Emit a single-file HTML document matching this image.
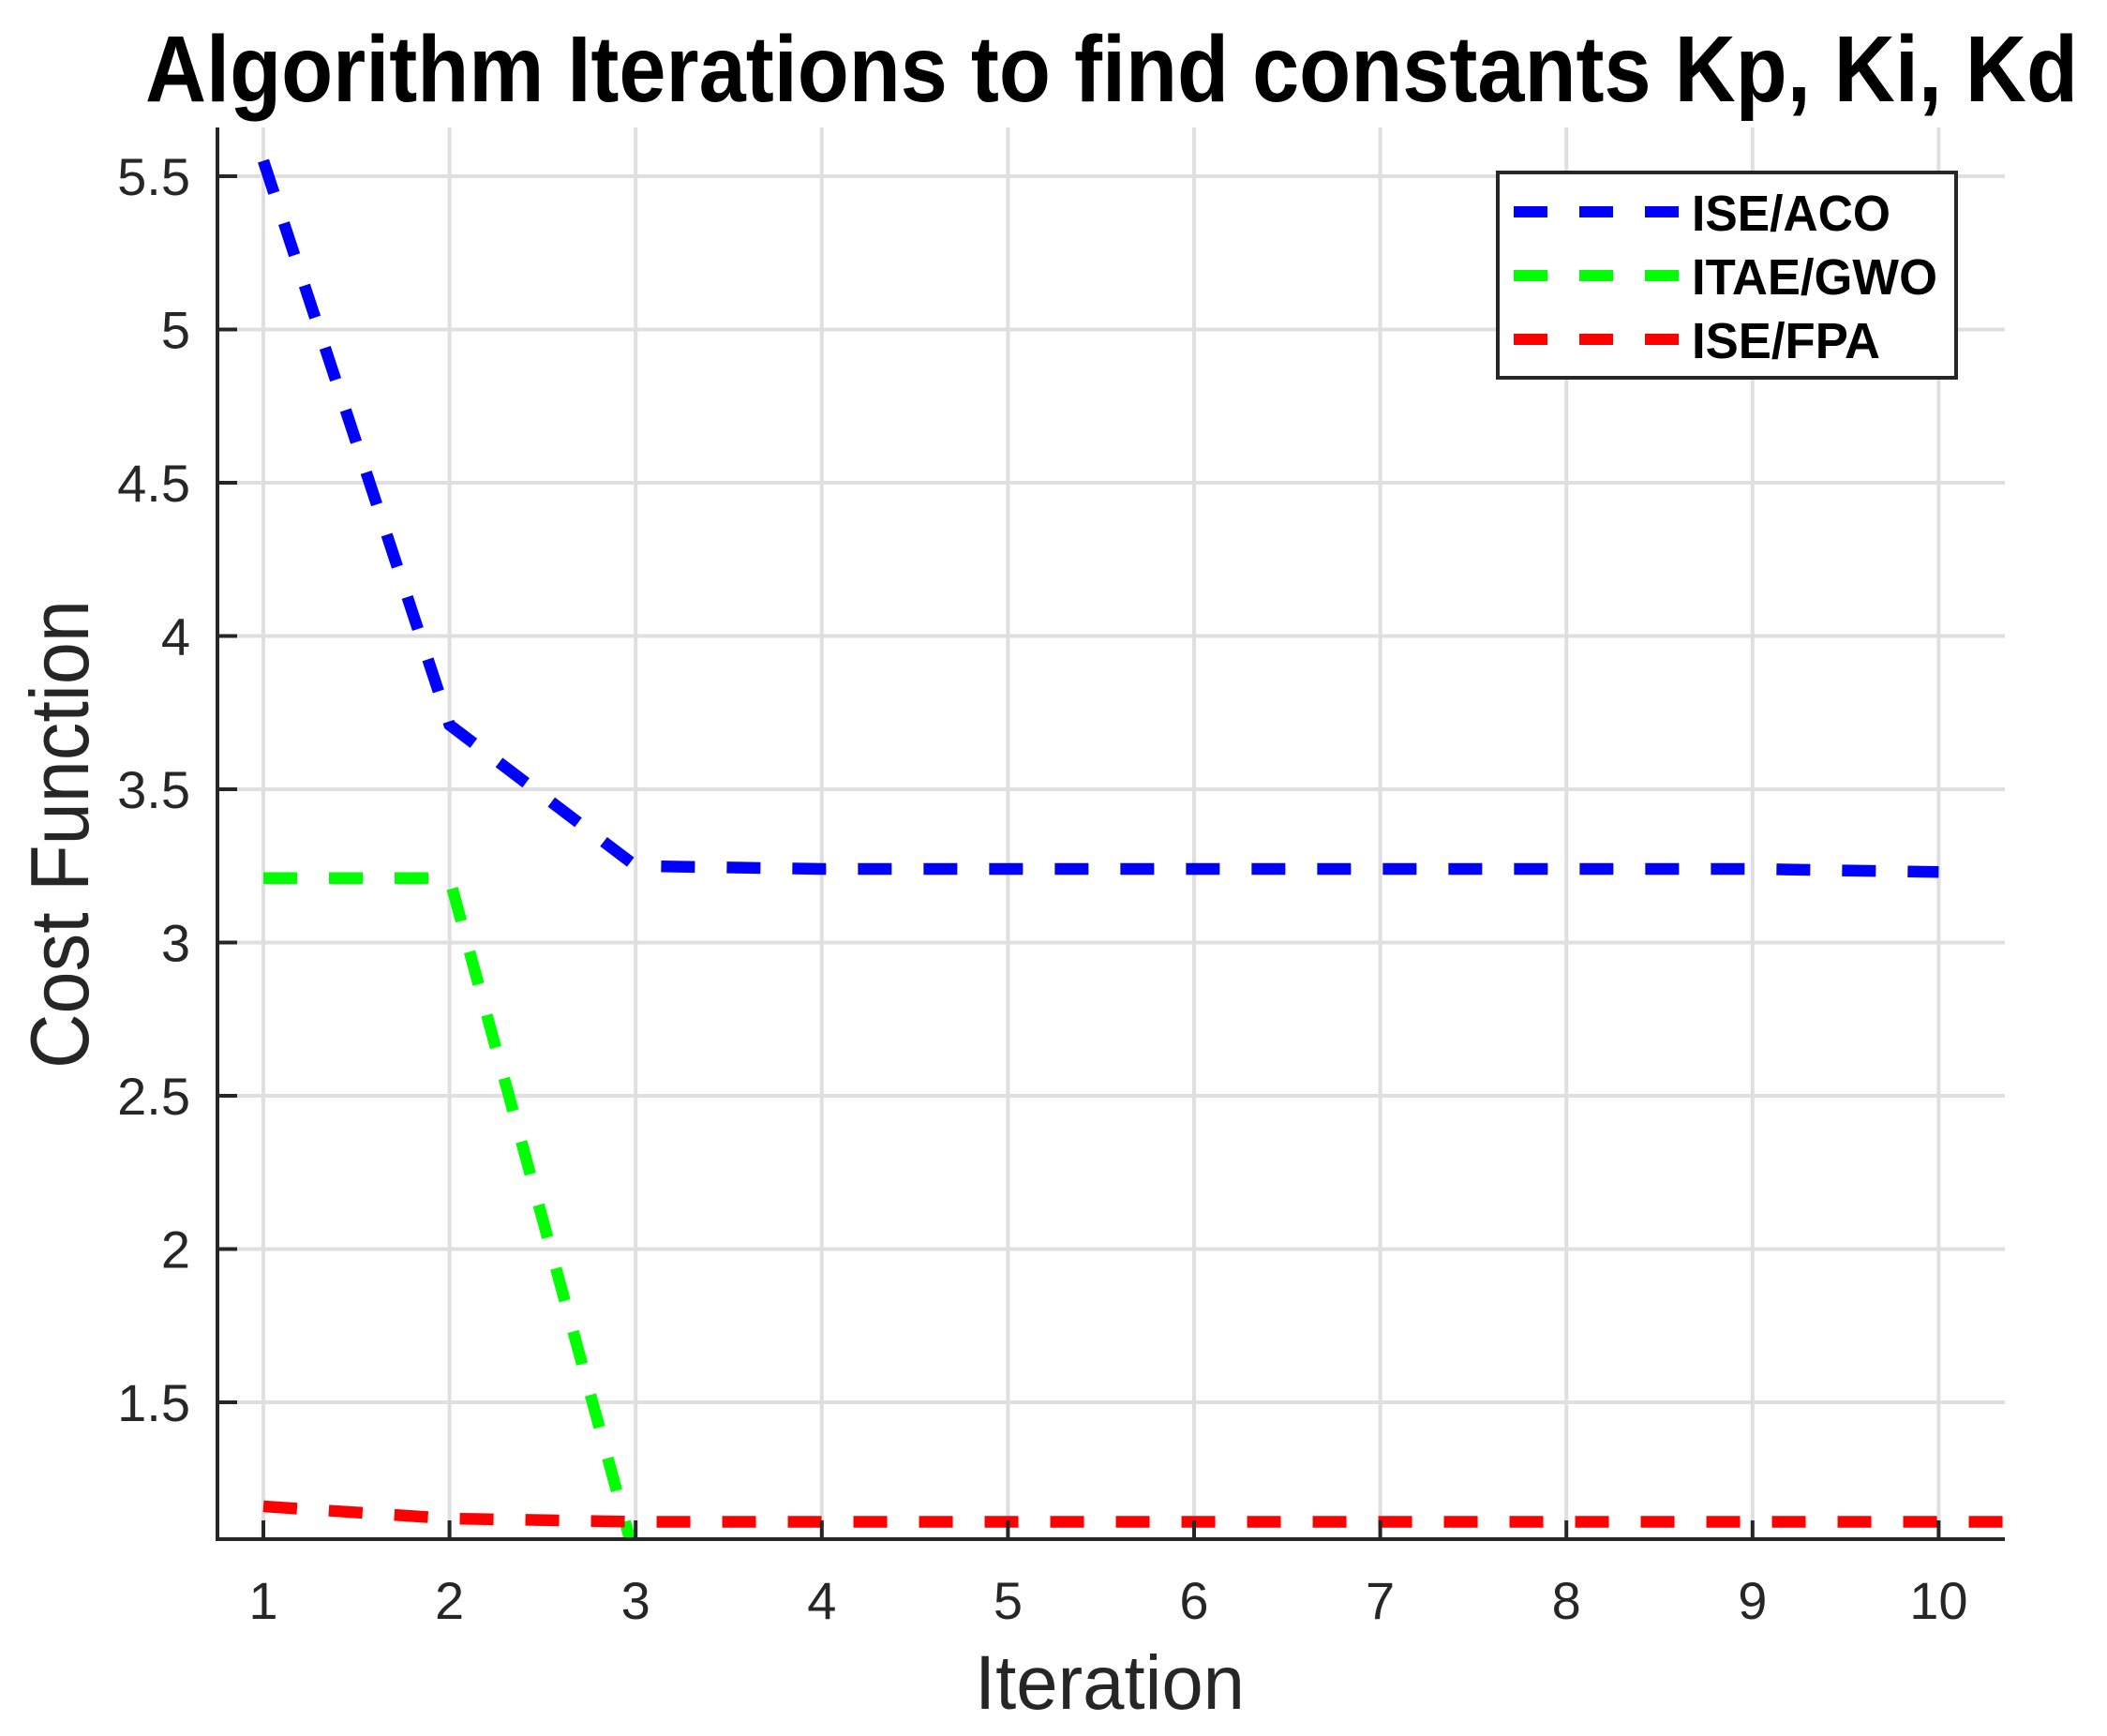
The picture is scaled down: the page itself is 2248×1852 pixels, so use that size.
<!DOCTYPE html>
<html><head><meta charset="utf-8"><style>html,body{margin:0;padding:0;background:#fff}svg{display:block}</style></head>
<body>
<svg xmlns="http://www.w3.org/2000/svg" width="2248" height="1852" viewBox="0 0 2248 1852">
<rect width="2248" height="1852" fill="#fff"/>
<defs><clipPath id="c"><rect x="232" y="136" width="1907" height="1506"/></clipPath></defs>
<g stroke="#dfdfdf" stroke-width="4">
<line x1="281" y1="136" x2="281" y2="1642"/><line x1="479.6" y1="136" x2="479.6" y2="1642"/><line x1="678.2" y1="136" x2="678.2" y2="1642"/><line x1="876.8" y1="136" x2="876.8" y2="1642"/><line x1="1075.4" y1="136" x2="1075.4" y2="1642"/><line x1="1274" y1="136" x2="1274" y2="1642"/><line x1="1472.6" y1="136" x2="1472.6" y2="1642"/><line x1="1671.2" y1="136" x2="1671.2" y2="1642"/><line x1="1869.8" y1="136" x2="1869.8" y2="1642"/><line x1="2068.4" y1="136" x2="2068.4" y2="1642"/>
<line x1="232" y1="188" x2="2139" y2="188"/><line x1="232" y1="351.5" x2="2139" y2="351.5"/><line x1="232" y1="515" x2="2139" y2="515"/><line x1="232" y1="678.5" x2="2139" y2="678.5"/><line x1="232" y1="842" x2="2139" y2="842"/><line x1="232" y1="1005.5" x2="2139" y2="1005.5"/><line x1="232" y1="1169" x2="2139" y2="1169"/><line x1="232" y1="1332.5" x2="2139" y2="1332.5"/><line x1="232" y1="1496" x2="2139" y2="1496"/>
</g>
<g clip-path="url(#c)" fill="none" stroke-width="12.5" stroke-dasharray="36 34">
<polyline stroke="#0000ff" points="281,171.6 479.6,773.3 678.2,923.8 876.8,927 1075.4,927 1274,927 1472.6,927 1671.2,927 1869.8,927 2068.4,930.3"/>
<polyline stroke="#00ff00" points="281,936.8 479.6,936.8 678.2,1664.7"/>
<polyline stroke="#ff0000" points="281,1607 479.6,1620 678.2,1623.5 876.8,1623.5 1075.4,1623.5 1274,1623.5 1472.6,1623.5 1671.2,1623.5 1869.8,1623.5 2068.4,1623.5 2141,1623.5"/>
</g>
<g stroke="#262626" stroke-width="4" fill="none">
<line x1="232" y1="136" x2="232" y2="1644"/><line x1="230" y1="1642" x2="2139" y2="1642"/>
<path d="M232 188h21M232 351.5h21M232 515h21M232 678.5h21M232 842h21M232 1005.5h21M232 1169h21M232 1332.5h21M232 1496h21"/>
<path d="M281 1642v-20M479.6 1642v-20M678.2 1642v-20M876.8 1642v-20M1075.4 1642v-20M1274 1642v-20M1472.6 1642v-20M1671.2 1642v-20M1869.8 1642v-20M2068.4 1642v-20"/>
</g>
<g font-family="Liberation Sans, sans-serif" font-size="56" fill="#262626" text-anchor="end">
<text x="203" y="208">5.5</text><text x="203" y="371.5">5</text><text x="203" y="535">4.5</text><text x="203" y="698.5">4</text><text x="203" y="862">3.5</text><text x="203" y="1025.5">3</text><text x="203" y="1189">2.5</text><text x="203" y="1352.5">2</text><text x="203" y="1516">1.5</text>
</g>
<g font-family="Liberation Sans, sans-serif" font-size="56" fill="#262626" text-anchor="middle">
<text x="281" y="1727">1</text><text x="479.6" y="1727">2</text><text x="678.2" y="1727">3</text><text x="876.8" y="1727">4</text><text x="1075.4" y="1727">5</text><text x="1274" y="1727">6</text><text x="1472.6" y="1727">7</text><text x="1671.2" y="1727">8</text><text x="1869.8" y="1727">9</text><text x="2068.4" y="1727">10</text>
</g>
<text x="1040" y="1823" font-family="Liberation Sans, sans-serif" font-size="82" fill="#262626" textLength="288" lengthAdjust="spacingAndGlyphs">Iteration</text>
<text transform="translate(94,1140) rotate(-90)" font-family="Liberation Sans, sans-serif" font-size="88" fill="#262626" textLength="500" lengthAdjust="spacingAndGlyphs">Cost Function</text>
<text x="155" y="108" font-family="Liberation Sans, sans-serif" font-weight="bold" font-size="100" fill="#000" textLength="2062" lengthAdjust="spacingAndGlyphs">Algorithm Iterations to find constants Kp, Ki, Kd</text>
<rect x="1598" y="184" width="489" height="219" fill="#fff" stroke="#262626" stroke-width="4"/>
<g stroke-width="12" stroke-dasharray="36 34">
<line x1="1615" y1="226" x2="1793" y2="226" stroke="#0000ff"/>
<line x1="1615" y1="294" x2="1793" y2="294" stroke="#00ff00"/>
<line x1="1615" y1="362" x2="1793" y2="362" stroke="#ff0000"/>
</g>
<g font-family="Liberation Sans, sans-serif" font-weight="bold" font-size="54" fill="#000">
<text x="1805" y="246" textLength="212" lengthAdjust="spacingAndGlyphs">ISE/ACO</text>
<text x="1805" y="314" textLength="262" lengthAdjust="spacingAndGlyphs">ITAE/GWO</text>
<text x="1805" y="382" textLength="201" lengthAdjust="spacingAndGlyphs">ISE/FPA</text>
</g>
</svg>
</body></html>
